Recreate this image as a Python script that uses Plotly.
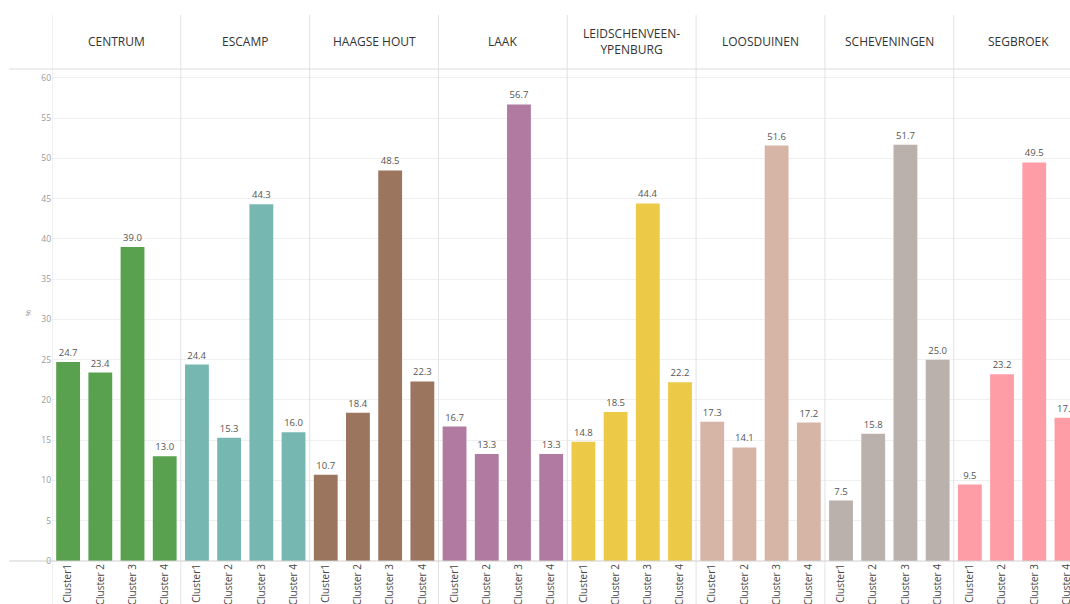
import plotly.graph_objects as go

districts = ["CENTRUM", "ESCAMP", "HAAGSE HOUT", "LAAK", "LEIDSCHENVEEN-<br>YPENBURG",
             "LOOSDUINEN", "SCHEVENINGEN", "SEGBROEK"]
clusters = ["Cluster1", "Cluster 2", "Cluster 3", "Cluster 4"]
centrum = [24.7, 23.4, 39.0, 13.0]
escamp = [24.4, 15.3, 44.3, 16.0]
haagse_hout = [10.7, 18.4, 48.5, 22.3]
laak = [16.7, 13.3, 56.7, 13.3]
leidschenveen = [14.8, 18.5, 44.4, 22.2]
loosduinen = [17.3, 14.1, 51.6, 17.2]
scheveningen = [7.5, 15.8, 51.7, 25.0]
segbroek = [9.5, 23.2, 49.5, 17.8]
values = [centrum, escamp, haagse_hout, laak, leidschenveen, loosduinen, scheveningen, segbroek]
colors = ["#59A14F", "#76B7B2", "#9C755F", "#B07AA1", "#EDC948", "#D7B5A6", "#BAB0AC", "#FF9DA7"]
yticks = [0, 5, 10, 15, 20, 25, 30, 35, 40, 45, 50, 55, 60]

FONT = "Open Sans"
fig = go.Figure()
keys_all, text_all = [], []
for p, (d, vals, c) in enumerate(zip(districts, values, colors)):
    keys = [f"{p}|{cl}" for cl in clusters]
    keys_all += keys
    text_all += clusters
    fig.add_trace(go.Bar(
        x=keys, y=vals, marker=dict(color=c, line=dict(width=0)), width=0.74,
        text=[f"{v:.1f}" for v in vals], textposition="outside",
        textfont=dict(size=9.5, color="#555555", family=FONT),
        showlegend=False, name=d.replace("<br>", ""),
    ))

fig.update_layout(
    width=1070, height=604, barmode="overlay",
    margin=dict(l=52, r=0, t=69, b=43, autoexpand=False),
    plot_bgcolor="white", paper_bgcolor="white",
    font=dict(family=FONT),
    uniformtext=dict(minsize=7, mode="show"),
)
fig.update_xaxes(
    type="category", range=[-0.5, 31.11], tickmode="array",
    tickvals=keys_all, ticktext=text_all, tickangle=-90,
    tickfont=dict(size=10, color="#444444"), showgrid=False, ticks="",
    showline=False, zeroline=False, automargin=False,
)
fig.update_yaxes(
    range=[0, 61.1], tickvals=yticks, tickfont=dict(size=8.5, color="#999999"),
    showgrid=True, gridcolor="#f0f0f0", gridwidth=1, zeroline=False, ticks="",
    showline=False, automargin=False,
)

shapes = []
for p in range(len(districts) + 1):
    shapes.append(dict(type="line", xref="x", yref="paper", x0=p * 4 - 0.5, x1=p * 4 - 0.5,
                       y0=-0.1, y1=1.11, line=dict(color="#e2e2e2", width=1)))
shapes.append(dict(type="line", xref="paper", yref="paper", x0=-0.042, x1=1, y0=1, y1=1,
                   line=dict(color="#dcdcdc", width=1)))
shapes.append(dict(type="line", xref="paper", yref="paper", x0=-0.042, x1=1, y0=0, y1=0,
                   line=dict(color="#cfcfcf", width=1)))
fig.update_layout(shapes=shapes)

ann = []
for p, d in enumerate(districts):
    ann.append(dict(xref="x", yref="paper", x=p * 4 + 1.5, y=1.055, text=d, showarrow=False,
                    font=dict(size=12, color="#333333", family=FONT), xanchor="center", yanchor="middle"))
ann.append(dict(xref="paper", yref="paper", x=-0.031, y=0.505, text="%", textangle=-90,
                showarrow=False, font=dict(size=8, color="#999999", family=FONT)))
fig.update_layout(annotations=ann)

fig.write_html("out.html", config={"displayModeBar": False},
               post_script="document.body.style.margin='0';document.body.style.overflow='hidden';")
